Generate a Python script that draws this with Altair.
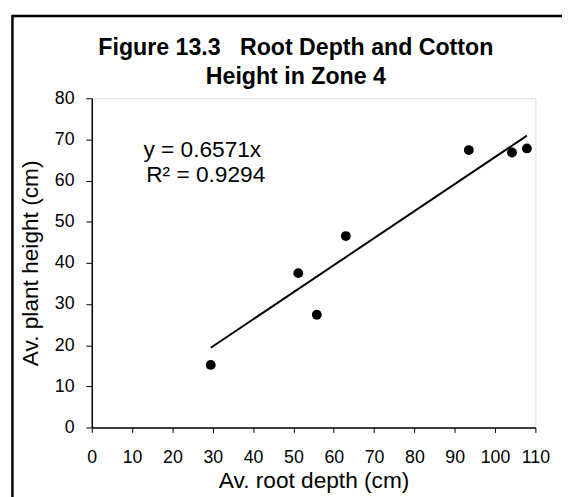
import altair as alt
import pandas as pd

# Data
root_depth = [29.5, 51.2, 55.8, 63.0, 93.5, 104.2, 107.9]
plant_height = [15.2, 37.5, 27.4, 46.5, 67.4, 66.8, 67.8]
slope = 0.6571
x_ticks = list(range(0, 111, 10))
y_ticks = list(range(0, 81, 10))
title_lines = ["Figure 13.3\u00a0\u00a0\u00a0Root Depth and Cotton", "Height in Zone 4"]
eq_lines = ["y = 0.6571x", "R\u00b2 = 0.9294"]
eq_x = [12.8, 13.5]
eq_y = [65.8, 59.6]

pts = pd.DataFrame({"x": root_depth, "y": plant_height})
xmin, xmax = min(root_depth), max(root_depth)
trend = pd.DataFrame({"x": [xmin, xmax], "y": [slope * xmin, slope * xmax]})
eq_df = pd.DataFrame({"x": eq_x, "y": eq_y, "t": eq_lines})

FONT = "Liberation Sans"

xscale = alt.Scale(domain=[0, 110], nice=False, zero=False)
yscale = alt.Scale(domain=[0, 80], nice=False, zero=False)

xaxis = alt.Axis(values=x_ticks, title="Av. root depth (cm)", grid=False,
                 tickSize=5, labelPadding=17, titlePadding=3,
                 labelFontSize=18, titleFontSize=23, labelFont=FONT, titleFont=FONT,
                 titleFontWeight="normal", labelColor="black", titleColor="black",
                 domainColor="black", tickColor="black", domainWidth=1.5,
                 labelFlush=False, labelOverlap=False)
yaxis = alt.Axis(values=y_ticks, title="Av. plant height (cm)", grid=False,
                 tickSize=6, labelPadding=12, titlePadding=12,
                 labelFontSize=18, titleFontSize=23, labelFont=FONT, titleFont=FONT,
                 titleFontWeight="normal", labelColor="black", titleColor="black",
                 domainColor="black", tickColor="black", domainWidth=1.5,
                 labelFlush=False, labelOverlap=False)

points = alt.Chart(pts).mark_circle(size=100, color="black", opacity=1).encode(
    x=alt.X("x:Q", scale=xscale, axis=xaxis),
    y=alt.Y("y:Q", scale=yscale, axis=yaxis),
)

line = alt.Chart(trend).mark_line(color="black", strokeWidth=2).encode(
    x=alt.X("x:Q", scale=xscale),
    y=alt.Y("y:Q", scale=yscale),
)

eq = alt.Chart(eq_df).mark_text(
    align="left", baseline="alphabetic", font=FONT, fontSize=23, color="black"
).encode(
    x=alt.X("x:Q", scale=xscale),
    y=alt.Y("y:Q", scale=yscale),
    text="t:N",
)

frame = alt.Chart(pd.DataFrame({"a": [0]})).mark_rect(
    filled=False, stroke="black", strokeWidth=2.5
).encode(
    x=alt.value(-80.5), x2=alt.value(520),
    y=alt.value(-83.5), y2=alt.value(440),
)

chart = alt.layer(frame, line, points, eq).properties(
    width=450, height=334,
    padding={"left": 85, "top": 88, "right": 27, "bottom": 67},
    autosize=alt.AutoSizeParams(type="none"),
    title=alt.TitleParams(text=title_lines, font=FONT, fontSize=23.5, fontWeight="bold",
                          color="black", anchor="middle", dx=-18, offset=0, dy=75,
                          lineHeight=30),
).configure_view(stroke="#808080", strokeWidth=1).configure(background="white")

chart.save("out.html", embed_options={"renderer": "svg", "actions": False})
